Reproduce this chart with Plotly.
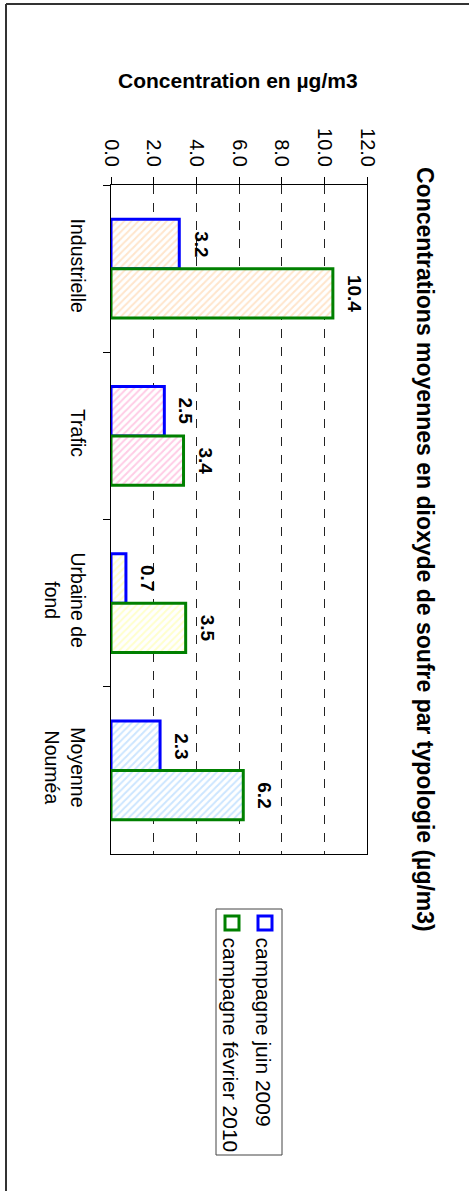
import plotly.graph_objects as go

# Données : concentrations moyennes en SO2 par typologie de site
categories = ["Industrielle", "Trafic", "Urbaine de<br>fond", "Moyenne<br>Nouméa"]
juin_2009 = [3.2, 2.5, 0.7, 2.3]
fevrier_2010 = [10.4, 3.4, 3.5, 6.2]
x_ticks = [0, 2, 4, 6, 8, 10, 12]
x_tick_labels = ["0.0", "2.0", "4.0", "6.0", "8.0", "10.0", "12.0"]

serie_names = ["campagne juin 2009", "campagne février 2010"]
serie_lines = ["#0000FF", "#008000"]
hatch_colors = ["#FFCC99", "#FF99CC", "#FFFF99", "#99CCFF"]

title = "Concentrations moyennes en dioxyde de soufre par typologie (µg/m3)"
axis_title = "Concentration en µg/m3"

FONT = "Liberation Sans, Arial, sans-serif"
W, H = 469, 1191
L, R, T, B = 111, 102, 185, 337
PW, PH = W - L - R, H - T - B
BARGAP = 0.41


def px(xp):
    return (xp - L) / PW


def py(yp):
    return (H - B - yp) / PH


series = [juin_2009, fevrier_2010]

fig = go.Figure()
for name, vals, line_col in zip(serie_names, series, serie_lines):
    fig.add_trace(go.Bar(
        y=categories, x=vals, orientation="h", name=name,
        marker=dict(
            color="white",
            line=dict(color=line_col, width=3),
            pattern=dict(shape="/", fgcolor=hatch_colors, bgcolor="white",
                         size=5, solidity=0.4, fillmode="overlay"),
        ),
        showlegend=False,
    ))

# étiquettes de valeur, décalées au-delà de l'extrémité de chaque barre
band = PH / len(categories)
bar_w = band * (1 - BARGAP) / len(series)
annotations = []
for k, vals in enumerate(series):
    offset = (len(series) / 2 - k - 0.5) * bar_w
    for cat, v in zip(categories, vals):
        annotations.append(dict(
            text=f"<b>{v:.1f}</b>", textangle=90, x=v, y=cat, xref="x", yref="y",
            xanchor="left", yanchor="middle", xshift=9, yshift=offset, showarrow=False,
            font=dict(family=FONT, size=19, color="black"),
        ))

shapes = [
    # cadre extérieur
    dict(type="line", xref="paper", yref="paper", x0=px(6), x1=px(469), y0=py(4), y1=py(4),
         line=dict(color="#333333", width=2)),
    dict(type="line", xref="paper", yref="paper", x0=px(6), x1=px(6), y0=py(4), y1=py(1195),
         line=dict(color="#333333", width=2)),
    # légende
    dict(type="rect", xref="paper", yref="paper", x0=px(216), x1=px(282), y0=py(909), y1=py(1155),
         line=dict(color="#444444", width=1), fillcolor="white"),
]
annotations += [
    dict(text=f"<b>{title}</b>", textangle=90, xref="paper", yref="paper",
         x=px(425), y=py(549), xanchor="center", yanchor="middle", showarrow=False,
         font=dict(family=FONT, size=23, color="black")),
    dict(text=f"<b>{axis_title}</b>", xref="paper", yref="paper",
         x=px(238), y=py(80), xanchor="center", yanchor="middle", showarrow=False,
         font=dict(family=FONT, size=21, color="black")),
]

leg_x = [265, 232]
for name, line_col, cx in zip(serie_names, serie_lines, leg_x):
    shapes.append(dict(type="rect", xref="paper", yref="paper",
                       x0=px(cx - 7), x1=px(cx + 7), y0=py(916), y1=py(930),
                       line=dict(color=line_col, width=3), fillcolor="white"))
    annotations.append(dict(text=name, textangle=90, xref="paper", yref="paper",
                            x=px(cx - 2), y=py(935), xanchor="center", yanchor="top",
                            showarrow=False, font=dict(family=FONT, size=21, color="black")))

fig.update_layout(
    width=W, height=H, autosize=False,
    margin=dict(l=L, r=R, t=T, b=B, pad=0),
    paper_bgcolor="white", plot_bgcolor="white",
    barmode="group", bargap=BARGAP, bargroupgap=0,
    font=dict(family=FONT, color="black"),
    shapes=shapes, annotations=annotations,
    xaxis=dict(
        side="top", range=[0, 12], tickvals=x_ticks, ticktext=x_tick_labels,
        tickangle=90, tickfont=dict(family=FONT, size=20, color="black"),
        ticks="outside", ticklen=7, tickcolor="black", ticklabelstandoff=3,
        showgrid=True, gridcolor="#222222", gridwidth=1, griddash="dash",
        showline=True, linecolor="black", linewidth=1, mirror=True, zeroline=False,
    ),
    yaxis=dict(
        type="category", autorange="reversed", tickangle=90,
        tickfont=dict(family=FONT, size=19.5, color="black"),
        ticks="outside", ticklen=7, tickcolor="black", tickson="boundaries",
        ticklabelstandoff=16,
        showline=True, linecolor="black", linewidth=1, mirror=True, showgrid=False,
    ),
)

fig.write_html("out.html")
